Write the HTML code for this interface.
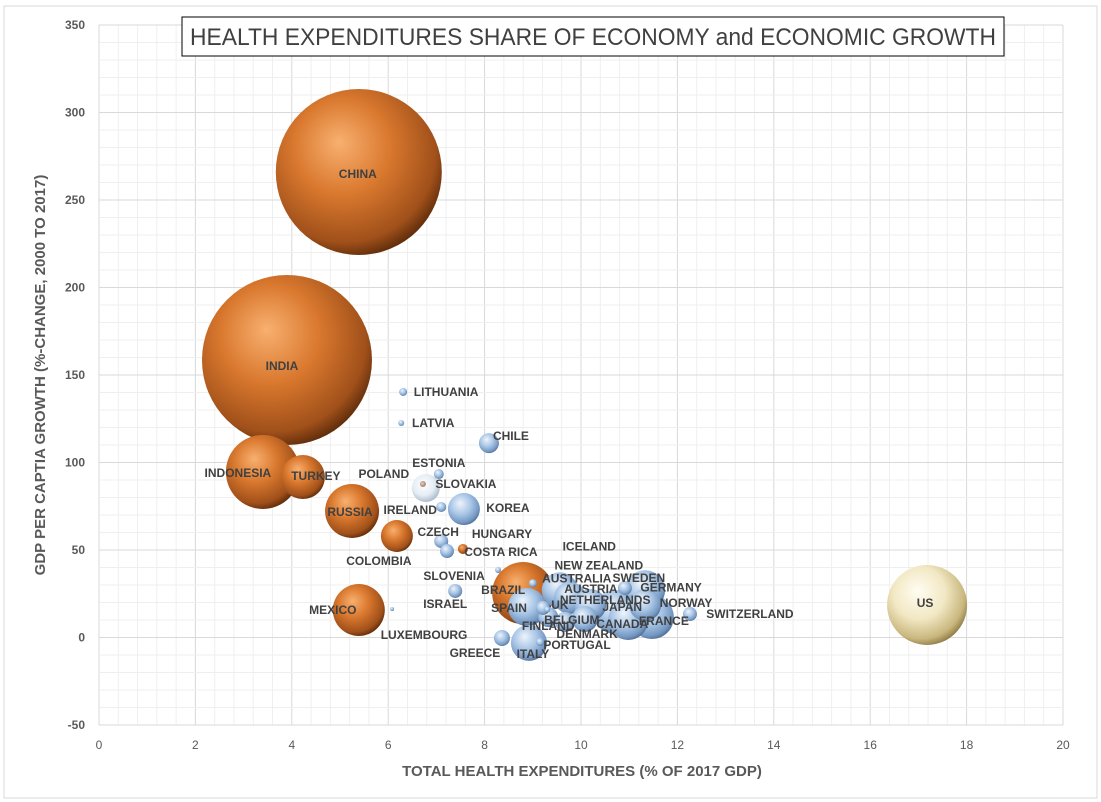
<!DOCTYPE html>
<html><head><meta charset="utf-8"><style>
html,body{margin:0;padding:0;background:#fff;}
svg{display:block;font-family:"Liberation Sans",sans-serif;}
</style></head><body>
<svg id="chart" width="1101" height="802" viewBox="0 0 1101 802">
<defs>
<radialGradient id="gOr" cx="0.42" cy="0.38" r="0.65" fx="0.38" fy="0.32">
<stop offset="0" stop-color="#f8b070"/><stop offset="0.45" stop-color="#d9782e"/><stop offset="0.85" stop-color="#a0501a"/><stop offset="1" stop-color="#5c2a0a"/></radialGradient>
<radialGradient id="gBl" cx="0.42" cy="0.38" r="0.65" fx="0.38" fy="0.32">
<stop offset="0" stop-color="#eef4fb"/><stop offset="0.5" stop-color="#a9c6e6"/><stop offset="0.85" stop-color="#7598c2"/><stop offset="1" stop-color="#4d6c94"/></radialGradient>
<radialGradient id="gLt" cx="0.42" cy="0.38" r="0.65">
<stop offset="0" stop-color="#ffffff"/><stop offset="0.6" stop-color="#e4ecf4"/><stop offset="1" stop-color="#a8b8c8"/></radialGradient>
<radialGradient id="gCr" cx="0.42" cy="0.38" r="0.65" fx="0.38" fy="0.32">
<stop offset="0" stop-color="#fffdf2"/><stop offset="0.5" stop-color="#f2e8c4"/><stop offset="0.85" stop-color="#c9b77e"/><stop offset="1" stop-color="#8c7a44"/></radialGradient>
<radialGradient id="gTn" cx="0.4" cy="0.4" r="0.6"><stop offset="0" stop-color="#e8d0b8"/><stop offset="1" stop-color="#9a8070"/></radialGradient>
</defs>
<rect x="4" y="6" width="1093" height="792" fill="#fff" stroke="#d9d9d9"/>
<g id="grid"></g><g id="axes"></g><g id="bubbles"></g><g id="labels"></g>
<rect x="182" y="17" width="822" height="39" fill="#fff" stroke="#000" stroke-width="1"/>
<text x="190" y="45" textLength="806" lengthAdjust="spacingAndGlyphs" font-size="24" fill="#404040">HEALTH EXPENDITURES SHARE OF ECONOMY and ECONOMIC GROWTH</text>
<text x="582" y="776" text-anchor="middle" font-size="15" font-weight="bold" fill="#595959">TOTAL HEALTH EXPENDITURES (% OF 2017 GDP)</text>
<text transform="translate(45,375) rotate(-90)" text-anchor="middle" font-size="15" font-weight="bold" fill="#595959">GDP PER CAPTIA GROWTH (%-CHANGE, 2000 TO 2017)</text>
</svg>
<script>
const countries=["CHINA","INDIA","INDONESIA","TURKEY","RUSSIA","COLOMBIA","MEXICO","US","BRAZIL","COSTA RICA","LITHUANIA","LATVIA","CHILE","ESTONIA","POLAND","SLOVAKIA","IRELAND","KOREA","CZECH","HUNGARY","SLOVENIA","ISRAEL","NEW ZEALAND","AUSTRALIA","AUSTRIA","SWEDEN","GERMANY","NETHERLANDS","NORWAY","UK","JAPAN","SPAIN","FINLAND","BELGIUM","CANADA","FRANCE","SWITZERLAND","DENMARK","PORTUGAL","GREECE","ITALY","LUXEMBOURG","ICELAND"];
const healthShare=[5.39,3.90,3.40,4.23,5.25,6.18,5.39,17.18,8.80,7.55,6.31,6.27,8.09,7.05,6.78,6.72,7.10,7.57,7.10,7.22,8.28,7.39,9.00,9.56,9.77,10.91,11.33,10.19,11.33,9.21,10.71,8.88,9.32,10.08,10.98,11.47,12.26,9.67,9.15,8.36,8.92,6.08,9.30];
const gdpGrowth=[266,158.6,94.6,91.7,72.3,58,15.7,18.6,25.4,50.6,140.3,122.6,111.1,93.4,85.4,87.7,74.6,73.4,55.1,49.4,38.6,26.6,31,27,22.6,28.3,27,18.6,18.6,16.9,14.6,17.4,11.7,10.6,10,11.7,13.4,8.9,-2.6,-0.3,-3.1,16.3,16];
const bubbleSize=[83,85,37,22,27,16,26,40,31,5,4,3,10,5,14,3,5,16,7,7,3,7,4,18,16,7,20,16,16,7,22,19,10,13,20,22,7,10,4,8,18,2,3];
const colorGroup=["o","o","o","o","o","o","o","c","o","o","b","b","b","b","l","t","b","b","b","b","b","b","b","b","b","b","b","b","b","b","b","b","b","b","b","b","b","b","b","b","b","b","b"];
const xTicks=[0,2,4,6,8,10,12,14,16,18,20];
const yTicks=[-50,0,50,100,150,200,250,300,350];
// label offsets (style, px from bubble centre)
const labelOff=[[-1,6],[-5,10],[-25,5],[13,3],[-2,5],[-18,29],[-26,4],[-2,2],[-20,1],[38,7],[43,4],[32,4],[22,-3],[0,-7],[-42,-10],[43,4],[-31,7],[44,3],[-3,-5],[55,-13],[-44,10],[-10,17],[66,-14],[17,-8],[21,-5],[14,-6],[26,1],[15,-1],[41,2],[17,1],[7,-1],[-18,5],[0,13],[-13,5],[-6,8],[12,8],[60,4],[22,16],[37,7],[-27,19],[4,15],[32,30],[42,-59]];
const X0=99,X1=1063,Y0=725,Y1=25;
const xs=v=>X0+(v-0)/20*(X1-X0);
const ys=v=>Y0-(v+50)/400*(Y0-Y1);
const NS="http://www.w3.org/2000/svg";
function mk(t,a,p){const e=document.createElementNS(NS,t);for(const k in a)e.setAttribute(k,a[k]);p.appendChild(e);return e;}
const grid=document.getElementById('grid'),axes=document.getElementById('axes');
for(let v=0;v<=20.001;v+=0.4){const x=xs(v);const maj=Math.abs(v/2-Math.round(v/2))<1e-6;
const l=mk('line',{x1:x,x2:x,y1:Y1,y2:Y0,stroke:maj?'#d9d9d9':'#efefef','stroke-width':1},grid);

}
for(let v=-50;v<=350;v+=10){const y=ys(v);const maj=v%50===0;
const l=mk('line',{x1:X0,x2:X1,y1:y,y2:y,stroke:maj?'#d9d9d9':'#efefef','stroke-width':1},grid);

}
xTicks.forEach(v=>{const t=mk('text',{x:xs(v),y:Y0+24,'text-anchor':'middle','font-size':12,fill:'#595959'},axes);t.textContent=v;

});
yTicks.forEach(v=>{const t=mk('text',{x:X0-14,y:ys(v)+4,'text-anchor':'end','font-size':12,'font-weight':'bold',fill:'#595959'},axes);t.textContent=v;

});
const fills={o:'url(#gOr)',b:'url(#gBl)',l:'url(#gLt)',c:'url(#gCr)',t:'url(#gTn)'};
const order=countries.map((c,i)=>i).sort((a,b)=>bubbleSize[b]-bubbleSize[a]);
const bg=document.getElementById('bubbles'),lg=document.getElementById('labels');
order.forEach(i=>{const c=mk('circle',{cx:xs(healthShare[i]),cy:ys(gdpGrowth[i]),r:bubbleSize[i],fill:fills[colorGroup[i]]},bg);

});
countries.forEach((n,i)=>{const o=labelOff[i];const t=mk('text',{x:xs(healthShare[i])+o[0],y:ys(gdpGrowth[i])+o[1],'text-anchor':'middle','font-size':12,'font-weight':'bold',fill:'#404040'},lg);t.textContent=n;

});
</script>
</body></html>
